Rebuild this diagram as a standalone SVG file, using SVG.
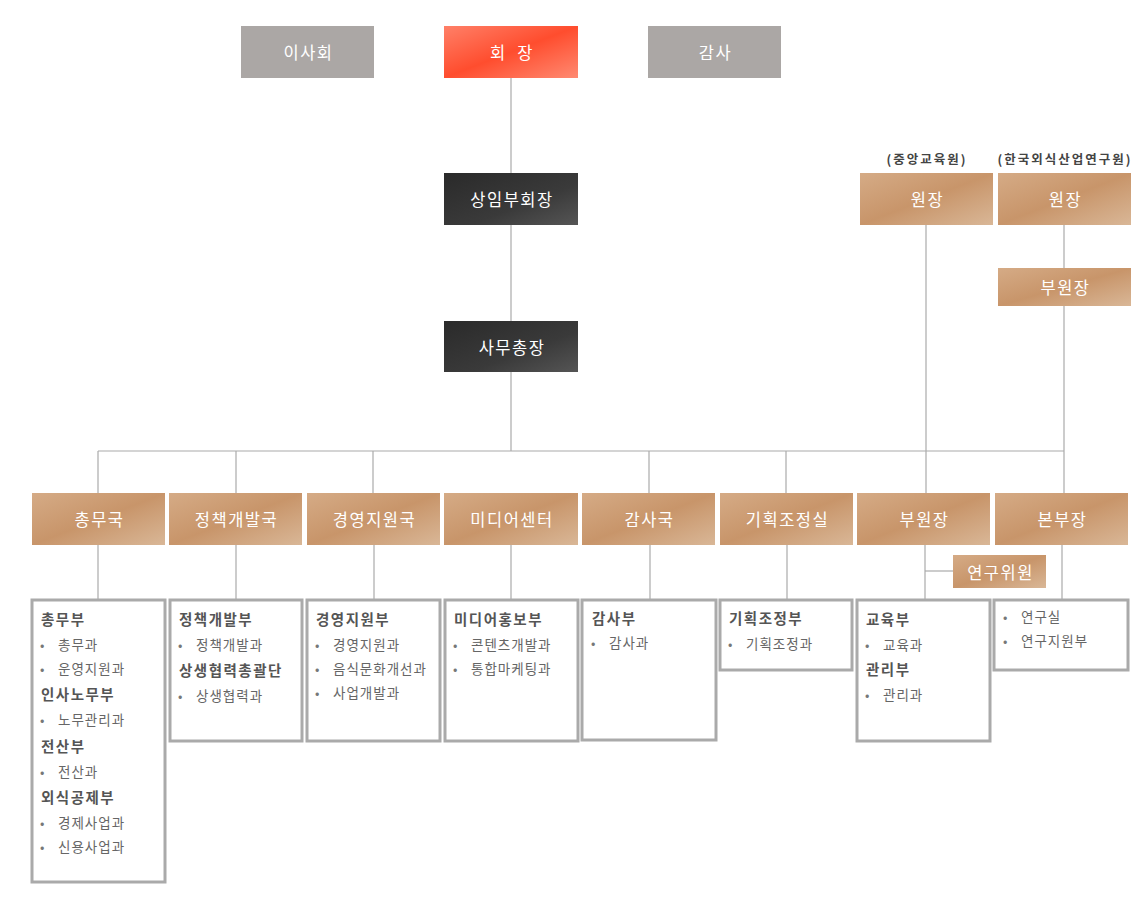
<svg xmlns="http://www.w3.org/2000/svg" width="1147" height="911" viewBox="0 0 1147 911">
<defs>
<linearGradient id="tan" x1="0" y1="0" x2="1" y2="1">
<stop offset="0" stop-color="#d5ab86"/>
<stop offset="0.5" stop-color="#c8956a"/>
<stop offset="1" stop-color="#d9b797"/>
</linearGradient>
<linearGradient id="red" x1="0" y1="0" x2="1" y2="1">
<stop offset="0" stop-color="#ff8068"/>
<stop offset="0.5" stop-color="#ff4d2e"/>
<stop offset="1" stop-color="#ff8a72"/>
</linearGradient>
<linearGradient id="dark" x1="0" y1="0" x2="1" y2="1">
<stop offset="0" stop-color="#2a2a2a"/>
<stop offset="0.6" stop-color="#3a3a3a"/>
<stop offset="1" stop-color="#555"/>
</linearGradient>
</defs>
<style>
text{font-family:"Noto Sans CJK KR","Noto Sans",sans-serif}
.lbl{fill:#fff;font-size:16.5px;letter-spacing:1.5px;text-anchor:middle;dominant-baseline:central}
.gray{fill:#aba7a5}
.tan{fill:url(#tan)}
.list{fill:#fff;stroke:#aaa;stroke-width:3}
.h{fill:#555;font-size:14.5px;font-weight:bold;letter-spacing:1.5px}
.it{fill:#666;font-size:13.5px;letter-spacing:1px}
.bu{fill:#777;font-size:13px}
.note{fill:#444;font-size:12.5px;font-weight:bold;text-anchor:middle;letter-spacing:2px}
#connectors line{stroke:#aaa;stroke-width:1.2}
</style>
<rect width="1147" height="911" fill="#fff"/>
<g id="connectors">
<line x1="511" y1="78" x2="511" y2="451"/>
<line x1="98" y1="451" x2="1064" y2="451"/>
<line x1="926" y1="225" x2="926" y2="493"/>
<line x1="1064" y1="225" x2="1064" y2="268"/>
<line x1="1064" y1="305" x2="1064" y2="493"/>
<line x1="98" y1="451" x2="98" y2="493"/>
<line x1="236" y1="451" x2="236" y2="493"/>
<line x1="373" y1="451" x2="373" y2="493"/>
<line x1="649" y1="451" x2="649" y2="493"/>
<line x1="786" y1="451" x2="786" y2="493"/>
<line x1="98" y1="545" x2="98" y2="600"/>
<line x1="236" y1="545" x2="236" y2="600"/>
<line x1="374" y1="545" x2="374" y2="600"/>
<line x1="511" y1="545" x2="511" y2="600"/>
<line x1="650" y1="545" x2="650" y2="600"/>
<line x1="787" y1="545" x2="787" y2="600"/>
<line x1="925" y1="545" x2="925" y2="600"/>
<line x1="925" y1="571" x2="953" y2="571"/>
<line x1="1062" y1="545" x2="1062" y2="600"/>
</g>
<g id="n-board"><rect class="gray" x="241" y="26" width="133" height="52"/><text class="lbl" x="308.5" y="52">이사회</text></g>
<g id="n-chair"><rect fill="url(#red)" x="444" y="26" width="134" height="52"/><text class="lbl" x="512" y="52" xml:space="preserve">회  장</text></g>
<g id="n-audit"><rect class="gray" x="648" y="26" width="133" height="52"/><text class="lbl" x="715.5" y="52">감사</text></g>
<g id="n-vice"><rect fill="url(#dark)" x="444" y="173" width="134" height="52"/><text class="lbl" x="512" y="199">상임부회장</text></g>
<g id="n-secgen"><rect fill="url(#dark)" x="444" y="321" width="134" height="51"/><text class="lbl" x="512" y="347">사무총장</text></g>
<g id="n-dir1"><text class="note" x="927" y="164">(중앙교육원)</text><rect class="tan" x="860" y="173" width="133" height="52"/><text class="lbl" x="927.5" y="199">원장</text></g>
<g id="n-dir2"><text class="note" x="1065" y="164">(한국외식산업연구원)</text><rect class="tan" x="998" y="173" width="133" height="52"/><text class="lbl" x="1065.5" y="199">원장</text></g>
<g id="n-vdir2"><rect class="tan" x="998" y="268" width="133" height="38"/><text class="lbl" x="1065.5" y="287">부원장</text></g>
<g id="n-b1"><rect class="tan" x="32" y="493" width="133" height="52"/><text class="lbl" x="99.5" y="519">총무국</text></g>
<g id="n-b2"><rect class="tan" x="169" y="493" width="133" height="52"/><text class="lbl" x="236.5" y="519">정책개발국</text></g>
<g id="n-b3"><rect class="tan" x="307" y="493" width="133" height="52"/><text class="lbl" x="374.5" y="519">경영지원국</text></g>
<g id="n-b4"><rect class="tan" x="444" y="493" width="134" height="52"/><text class="lbl" x="512" y="519">미디어센터</text></g>
<g id="n-b5"><rect class="tan" x="582" y="493" width="133" height="52"/><text class="lbl" x="649.5" y="519">감사국</text></g>
<g id="n-b6"><rect class="tan" x="720" y="493" width="133" height="52"/><text class="lbl" x="787.5" y="519">기획조정실</text></g>
<g id="n-b7"><rect class="tan" x="857" y="493" width="133" height="52"/><text class="lbl" x="924.5" y="519">부원장</text></g>
<g id="n-b8"><rect class="tan" x="995" y="493" width="133" height="52"/><text class="lbl" x="1062.5" y="519">본부장</text></g>
<g id="n-res"><rect class="tan" x="953" y="555" width="93" height="33"/><text class="lbl" x="1000.5" y="572">연구위원</text></g>
<g id="n-l1"><rect class="list" x="32" y="600" width="133" height="282"/>
<text class="h" x="41" y="625">총무부</text>
<text class="bu" x="40" y="650">•</text><text class="it" x="58" y="650">총무과</text>
<text class="bu" x="40" y="674">•</text><text class="it" x="58" y="674">운영지원과</text>
<text class="h" x="41" y="700">인사노무부</text>
<text class="bu" x="40" y="725">•</text><text class="it" x="58" y="725">노무관리과</text>
<text class="h" x="41" y="752">전산부</text>
<text class="bu" x="40" y="777">•</text><text class="it" x="58" y="777">전산과</text>
<text class="h" x="41" y="803">외식공제부</text>
<text class="bu" x="40" y="828">•</text><text class="it" x="58" y="828">경제사업과</text>
<text class="bu" x="40" y="852">•</text><text class="it" x="58" y="852">신용사업과</text>
</g>
<g id="n-l2"><rect class="list" x="170" y="600" width="132" height="141"/>
<text class="h" x="179" y="625">정책개발부</text>
<text class="bu" x="178" y="650">•</text><text class="it" x="196" y="650">정책개발과</text>
<text class="h" x="179" y="676">상생협력총괄단</text>
<text class="bu" x="178" y="701">•</text><text class="it" x="196" y="701">상생협력과</text>
</g>
<g id="n-l3"><rect class="list" x="307" y="600" width="133" height="141"/>
<text class="h" x="316" y="625">경영지원부</text>
<text class="bu" x="315" y="650">•</text><text class="it" x="333" y="650">경영지원과</text>
<text class="bu" x="315" y="674">•</text><text class="it" x="333" y="674">음식문화개선과</text>
<text class="bu" x="315" y="698">•</text><text class="it" x="333" y="698">사업개발과</text>
</g>
<g id="n-l4"><rect class="list" x="445" y="600" width="133" height="141"/>
<text class="h" x="454" y="625">미디어홍보부</text>
<text class="bu" x="453" y="650">•</text><text class="it" x="471" y="650">콘텐츠개발과</text>
<text class="bu" x="453" y="674">•</text><text class="it" x="471" y="674">통합마케팅과</text>
</g>
<g id="n-l5"><rect class="list" x="582" y="600" width="134" height="140"/>
<text class="h" x="592" y="624">감사부</text>
<text class="bu" x="591" y="648">•</text><text class="it" x="609" y="648">감사과</text>
</g>
<g id="n-l6"><rect class="list" x="720" y="600" width="132" height="70"/>
<text class="h" x="729" y="624">기획조정부</text>
<text class="bu" x="728" y="649">•</text><text class="it" x="746" y="649">기획조정과</text>
</g>
<g id="n-l7"><rect class="list" x="857" y="600" width="133" height="141"/>
<text class="h" x="866" y="625">교육부</text>
<text class="bu" x="865" y="650">•</text><text class="it" x="883" y="650">교육과</text>
<text class="h" x="866" y="675">관리부</text>
<text class="bu" x="865" y="700">•</text><text class="it" x="883" y="700">관리과</text>
</g>
<g id="n-l8"><rect class="list" x="994" y="600" width="134" height="70"/>
<text class="bu" x="1003" y="622">•</text><text class="it" x="1021" y="622">연구실</text>
<text class="bu" x="1003" y="646">•</text><text class="it" x="1021" y="646">연구지원부</text>
</g>
</svg>
